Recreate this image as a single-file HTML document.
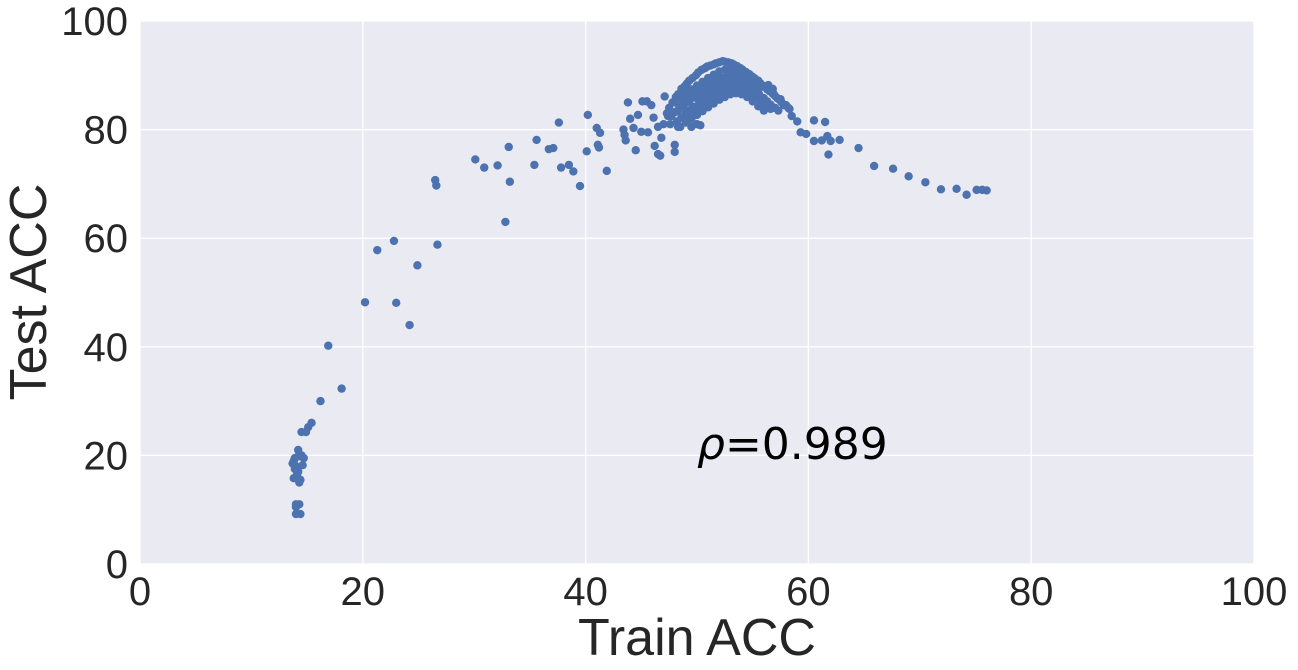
<!DOCTYPE html>
<html><head><meta charset="utf-8"><style>
html,body{margin:0;padding:0;background:#fff;width:1298px;height:670px;overflow:hidden}
svg text{font-family:"Liberation Sans","DejaVu Sans",sans-serif;fill:#262626}
</style></head><body>
<svg id="chart" width="1298" height="670" xmlns="http://www.w3.org/2000/svg">
<rect x="140" y="21" width="1114" height="543" fill="#EAEAF2"/>
<g id="grid"></g>
<g id="pts"></g>
<g id="ticks"></g>
<text x="697" y="655" font-size="52" text-anchor="middle">Train ACC</text>
<text transform="translate(46,292) rotate(-90)" font-size="52" text-anchor="middle">Test ACC</text>
<text x="697" y="459" font-size="44" style="font-family:'DejaVu Sans',sans-serif;fill:#000"><tspan font-style="italic">ρ</tspan>=0.989</text>
</svg>
<script>
const xTicks=[0,20,40,60,80,100];
const yTicks=[0,20,40,60,80,100];
const trainAcc=[13.9,14,14.2,14.1,14.3,13.8,14,14.3,14,14.4,14.5,14.7,14.2,14.5,14.9,15.1,15.4,16.2,16.9,18.1,20.2,21.3,22.8,23,24.2,24.9,26.5,26.6,26.7,30.1,30.9,32.1,32.8,33.1,33.2,35.4,35.6,36.7,37.1,37.6,37.8,38.5,38.9,39.5,40.1,40.2,41,41.1,41.2,41.3,41.9,
58.5,59,59.3,59.8,60.5,60.5,61.2,61.5,61.7,61.8,62,62.8,64.5,65.9,67.6,69,70.5,71.9,73.3,74.2,75.1,75.6,76,
43.4,43.5,43.6,43.8,44,44.3,44.5,44.7,45,45.1,45.5,45.6,45.9,46.1,46.2,46.5,46.7,46.8,47.1,47.3,47.6,48,48,48.3,49.5,50,50.3,
13.7,13.9,14.1,14.4,14.2,14.6,13.8,14.0,14.3,
47.5,47.8,48.1,48.3,48.6,48.9,49.1,49.3,49.6,49.9,50.1,50.4,50.7,50.9,51.2,51.5,51.7,52,52.3,52.5,52.8,53.1,53.3,53.6,53.9,54.1,54.4,54.7,54.9,55.2,55.5,55.7,56,56.3,56.6,56.9,57.2,57.6,58,
47.7,48,48.4,48.7,49,49.4,49.7,50,50.3,50.6,51,51.3,51.6,52,52.3,52.6,53,53.3,53.6,54,54.3,54.6,55,55.3,55.6,56,56.3,56.6,57,57.3,
48.2,48.6,49,49.4,49.8,50.2,50.6,51,51.4,51.8,52.2,52.6,53,53.4,53.8,54.2,54.6,55,55.4,55.8,56.2,56.6,
48.5,49,49.5,50,50.5,51,51.5,52,52.5,53,53.5,54,54.5,55,55.5,56,
46.5,47,47.4,48.8,49.2,50.8,51.2,52.8,53.2,54.8,55.2,56.8,57.5,58.2,
48.3,48.8,49.3,49.8,50.3,50.8,51.3,51.8,52.3,52.8,53.3,53.8,54.3,54.8,55.3,55.8,56.3,56.8,
48,48.5,49,49.5,50,50.5,51,51.5,52,52.5,53,53.5,54,54.5,55,55.5,56,56.5,57,
49,49.6,50.2,50.8,51.4,52,52.6,53.2,53.8,54.4,55,55.6,
49.2,49.7,50.2,50.7,51.2,51.7,52.2,52.7,53.2,53.7,54.2,54.7,55.2,55.7,56.2,
57.8,58.3,57.4,56.9,56.4];
const testAcc=[19.5,18,17,16,15,19,11,11,9.2,9.2,20,19.5,21,24.3,24.3,25.2,26,30,40.2,32.3,48.2,57.8,59.5,48.1,44,55,70.7,69.7,58.8,74.5,73,73.4,63,76.8,70.4,73.5,78.1,76.4,76.6,81.3,73,73.5,72.3,69.6,76,82.7,80.3,77.2,76.7,79.4,72.4,
82.5,81.5,79.5,79.2,81.7,77.9,78,81.4,78.8,75.4,77.9,78.1,76.6,73.3,72.8,71.4,70.3,69,69.1,68,68.9,68.9,68.8,
80,79,78,85,82,80.3,76.2,82.7,79.6,85.2,85.2,79.5,84.5,82.2,77,75.5,75.2,78.5,86.1,83,81,77.2,75.9,80.5,80.5,81,80.8,
18.5,17.5,16.5,15.5,19.8,18.2,15.8,10.5,20.2,
84,85,86,86.5,87.5,88,88.5,89,89.5,90,90.5,91,91.3,91.6,91.8,92,92.2,92.4,92.6,92.5,92.4,92.2,92,91.7,91.3,91,90.6,90.2,89.8,89.4,89,88.5,88,87.5,87,86.5,85.8,85,84.5,
82.5,83.2,84,84.6,85.2,85.8,86.3,86.8,87.3,87.8,88.2,88.6,89,89.3,89.5,89.6,89.5,89.3,89,88.7,88.3,87.9,87.4,87,86.4,85.8,85.2,84.6,84,83.5,
81.5,82.2,83,83.6,84.2,84.8,85.4,86,86.5,87,87.4,87.7,88,88.1,88,87.8,87.4,86.8,86,85.2,84.5,83.8,
80.5,81.3,82,82.7,83.4,84.1,84.8,85.5,86,86.5,86.7,86.5,86,85.2,84.3,83.5,
80.5,81,82.5,86,87,88.5,89.3,90.2,90.5,89.4,88.6,87.5,85.6,84,
83.5,84.3,85.1,85.9,86.6,87.3,88,88.7,89.2,89.7,90,90.1,89.9,89.5,88.9,88.2,87.4,86.6,
85,85.8,86.6,87.4,88.1,88.8,89.5,90.1,90.7,91,91.2,91.1,90.8,90.3,89.7,88.9,88,87.1,86.2,
83,84.2,85.3,86.3,87.2,88,88.6,89,89.1,88.9,88.4,87.6,
82,82.8,83.6,84.4,85.1,85.8,86.4,86.9,87.2,87.3,87.2,86.9,86.3,85.5,84.6,
84.5,83.8,85.5,86.5,88.2];
const X0=140,X1=1254,Y0=564,Y1=21;
const sx=v=>X0+(v/100)*(X1-X0), sy=v=>Y0-(v/100)*(Y0-Y1);
const NS="http://www.w3.org/2000/svg";
const grid=document.getElementById('grid'),ticks=document.getElementById('ticks'),pts=document.getElementById('pts');
xTicks.forEach(t=>{
  const l=document.createElementNS(NS,'line');
  
  
  l.setAttribute('x1',sx(t));l.setAttribute('x2',sx(t));l.setAttribute('y1',Y1);l.setAttribute('y2',Y0);
  l.setAttribute('stroke','#fff');l.setAttribute('stroke-width','1.3');grid.appendChild(l);
  const tx=document.createElementNS(NS,'text');
  
  
  tx.setAttribute('x',sx(t));tx.setAttribute('y',605);tx.setAttribute('font-size','40');tx.setAttribute('text-anchor','middle');
  tx.textContent=t;ticks.appendChild(tx);
});
yTicks.forEach(t=>{
  const l=document.createElementNS(NS,'line');
  
  
  l.setAttribute('x1',X0);l.setAttribute('x2',X1);l.setAttribute('y1',sy(t));l.setAttribute('y2',sy(t));
  l.setAttribute('stroke','#fff');l.setAttribute('stroke-width','1.3');grid.appendChild(l);
  const tx=document.createElementNS(NS,'text');
  
  
  tx.setAttribute('x',128);tx.setAttribute('y',sy(t)+14);tx.setAttribute('font-size','40');tx.setAttribute('text-anchor','end');
  tx.textContent=t;ticks.appendChild(tx);
});
trainAcc.forEach((v,i)=>{
  const c=document.createElementNS(NS,'circle');
  
  
  c.setAttribute('cx',sx(v));c.setAttribute('cy',sy(testAcc[i]));c.setAttribute('r','4.2');c.setAttribute('fill','#4C72B0');
  pts.appendChild(c);
});
</script>
</body></html>
